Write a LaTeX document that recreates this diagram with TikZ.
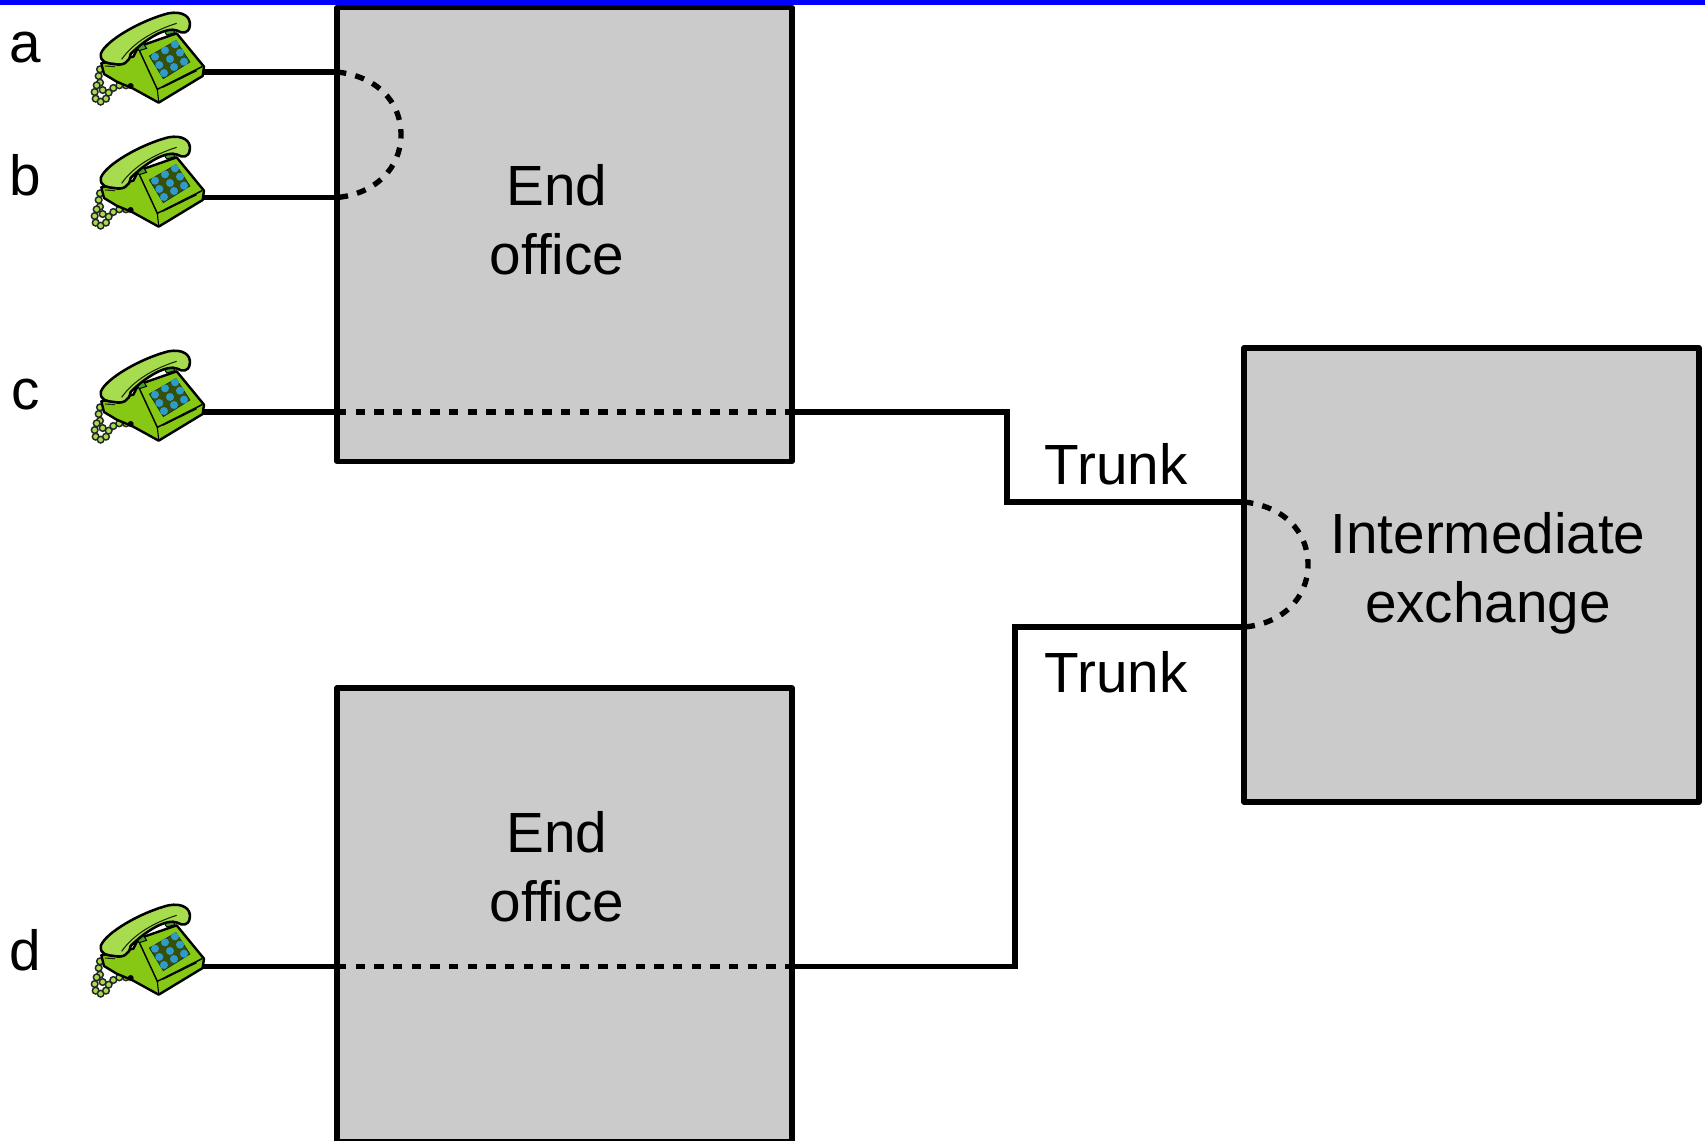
\documentclass[tikz,border=0pt]{standalone}
\usepackage{fontspec}
\setmainfont{Liberation Sans}
\definecolor{boxgrey}{HTML}{CBCBCB}
\definecolor{bodygreen}{HTML}{86C813}
\definecolor{handgreen}{HTML}{A6DC4E}
\definecolor{hookgreen}{HTML}{3FA52A}
\definecolor{keyblue}{HTML}{2F9BCB}
\tikzset{
  office/.style={draw=black,fill=boxgrey,line width=4pt,line join=round,minimum width=341.25pt,minimum height=340.5pt,inner sep=0pt,outer sep=0pt},
  wire/.style={draw=black,line width=3.9pt,line join=miter},
  dashwire/.style={draw=black,line width=4pt,dash pattern=on 7pt off 7pt},
  lbl/.style={font=\fontsize{42.5}{51.4}\selectfont,inner sep=0pt,outer sep=0pt,align=center,anchor=base},
  telephone/.pic={
    % cord
    \foreach \cx/\cy in {300/208,296/228,300/248,290/256,284/276,287/296,302/305,318/296,326/278,340/264,358/256,378/256,308/270}{
      \draw[black!85,line width=1.1pt,fill=handgreen] (\cx,\cy) circle[radius=10];
    }
    % body
    \draw[black,line width=1.8pt,fill=bodygreen,line join=round]
      (400,170) -- (415,140) -- (530,100) -- (612,200) -- (608,228) -- (476,308)
      -- (398,265) -- (350,245) -- (312,222) -- (304,190) -- cycle;
    \draw[black,line width=1.1pt] (415,145) -- (472,268) -- (606,200);
    \draw[black,line width=.8pt] (472,268) -- (476,305);
    \draw[black,line width=.9pt] (488,262) -- (590,212);
    \fill[black] (392,258) circle[radius=9];
    % keypad
    \draw[black!70!keyblue,line width=.5pt,fill=black!60!bodygreen] (448,168) -- (528,122) -- (570,186) -- (490,236) -- cycle;
    \foreach \kx/\ky in {465/170,495/151,525/133,478/195,510/177,540/158,492/219,522/201,552/185}{
      \fill[keyblue] (\kx,\ky) circle[radius=12];
    }
    % hooks
    \draw[black,line width=.7pt,fill=hookgreen] (405,135) -- (428,128) -- (440,145) -- (418,152) -- cycle;
    \draw[black,line width=.7pt,fill=hookgreen] (490,88) -- (515,82) -- (525,98) -- (500,105) -- cycle;
    % handset
    \draw[black,line width=1.9pt,fill=handgreen,line join=round]
      (303,160) .. controls (318,122) and (420,62) .. (505,40)
      .. controls (548,32) and (575,50) .. (569,80)
      .. controls (565,100) and (548,102) .. (532,92)
      .. controls (500,78) and (435,118) .. (392,162)
      .. controls (388,188) and (368,198) .. (343,192)
      .. controls (322,190) and (298,188) .. (303,160) -- cycle;
    \draw[black!80!bodygreen,line width=.8pt] (365,178) .. controls (400,128) and (460,92) .. (530,70);
    \draw[black!80!bodygreen,line width=.8pt] (315,198) -- (345,200);
    \coordinate (-jack) at (610,215);
  }
}
\begin{document}
\begin{tikzpicture}[x=0.75pt,y=-0.75pt]
\useasboundingbox (0,0) rectangle (1705,1141);
\clip (0,0) rectangle (1705,1141);
\fill[blue] (0,0) rectangle (1705,5);

\node[office] (endA) at (564.5,234.5) {};
\node[office] (endB) at (564.5,915) {};
\node[office] (inter) at (1471.5,575) {};

% positions on the box walls
\coordinate (aIn) at (endA.west |- 0,72);
\coordinate (bIn) at (endA.west |- 0,197.5);
\coordinate (cIn) at (endA.west |- 0,412);
\coordinate (cOut) at (endA.east |- 0,412);
\coordinate (dIn) at (endB.west |- 0,966.5);
\coordinate (dOut) at (endB.east |- 0,966.5);
\coordinate (tIn) at (inter.west |- 0,502);
\coordinate (uIn) at (inter.west |- 0,627);
\coordinate (tBend) at (1007,412);
\coordinate (uBend) at (1015,966.5);

\begin{scope}[x=.25pt,y=-.25pt]
  \pic (phA) {telephone};
\end{scope}
\begin{scope}[shift={(0,124)},x=.25pt,y=-.25pt]
  \pic (phB) {telephone};
\end{scope}
\begin{scope}[shift={(0,338)},x=.25pt,y=-.25pt]
  \pic (phC) {telephone};
\end{scope}
\begin{scope}[shift={(0,892)},x=.25pt,y=-.25pt]
  \pic (phD) {telephone};
\end{scope}

\draw[wire] (phA-jack |- aIn) -- (aIn);
\draw[wire] (phB-jack |- bIn) -- (bIn);
\draw[wire] (phC-jack |- cIn) -- (cIn);
\draw[wire] (phD-jack |- dIn) -- (dIn);
\draw[wire] (cOut) -- (tBend) |- (tIn);
\draw[wire] (dOut) -- (uBend) |- (uIn);

\draw[dashwire] (aIn) .. controls (375,76) and (401,100) .. (401,135) .. controls (401,168) and (375,194) .. (bIn);
\draw[dashwire] (tIn) .. controls (1282,506) and (1308,530) .. (1308,565) .. controls (1308,598) and (1282,624) .. (uIn);
\draw[dashwire] (cIn) -- (cOut);
\draw[dashwire] (dIn) -- (dOut);

\node[lbl] (la) at (25,63) {a};
\node[lbl] (lb) at (25,196) {b};
\node[lbl] (lc) at (26,409) {c};
\node[lbl] (ld) at (25,970) {d};
\node[lbl] (t1) at (557,274) {End\\office};
\node[lbl] (t2) at (557,921) {End\\office};
\node[lbl] (t3) at (1488,622) {Intermediate\\exchange};
\node[lbl] (t4) at (1116,484) {Trunk};
\node[lbl] (t5) at (1116,692) {Trunk};
\end{tikzpicture}
\end{document}
